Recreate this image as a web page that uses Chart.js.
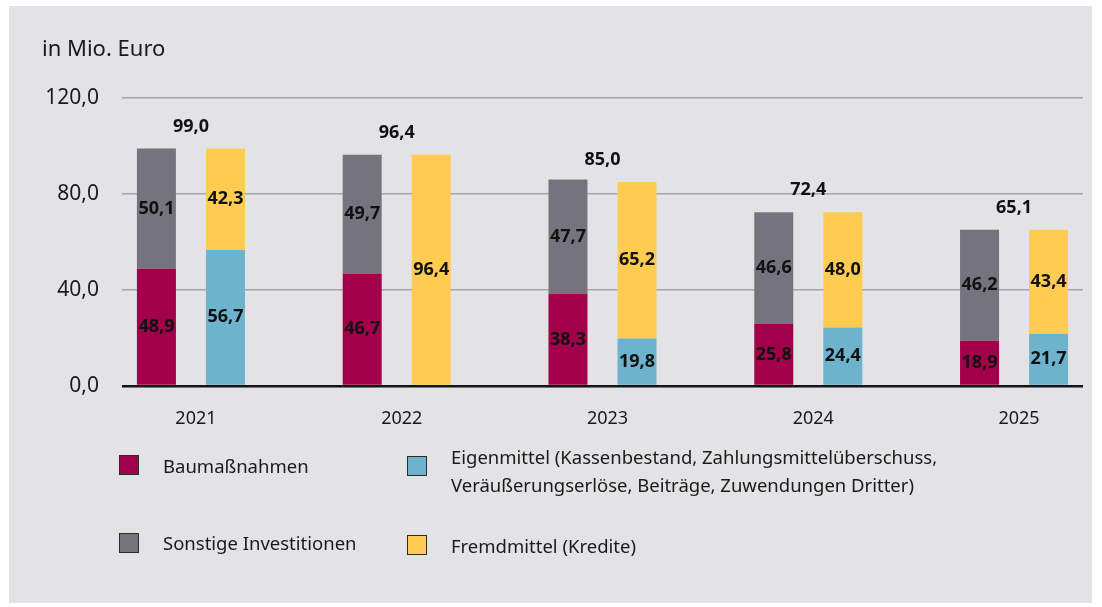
<!DOCTYPE html>
<html>
<head>
<meta charset="utf-8">
<title>Investitionen und Finanzierung</title>
<script src="https://cdn.jsdelivr.net/npm/chart.js@4/dist/chart.umd.min.js"></script>
<style>
  body { margin: 0; background: #fff; font-family: "Noto Sans", sans-serif; color: #1a1a1a; }
  #panel { position: absolute; left: 9px; top: 6px; width: 1083px; height: 597px; background: #e3e3e6; }
  #chart { position: absolute; left: 0; top: 0; }
  .unit { position: absolute; left: 42px; top: 32px; font-size: 22px; line-height: 30px; }
  .leg { position: absolute; font-size: 18.5px; line-height: 28px; }
  .sw { position: absolute; width: 18px; height: 18px; border: 1px solid #2a2a2a; }
</style>
</head>
<body>
<div id="panel"></div>
<canvas id="chart" width="1102" height="607"></canvas>
<div class="unit">in Mio. Euro</div>

<div class="sw" style="left:119px;top:455px;background:#a3004b"></div>
<div class="leg" style="left:163px;top:452px">Baumaßnahmen</div>
<div class="sw" style="left:407px;top:456px;background:#6db3ce"></div>
<div class="leg" style="left:451px;top:443px">Eigenmittel (Kassenbestand, Zahlungsmittelüberschuss,<br>Veräußerungserlöse, Beiträge, Zuwendungen Dritter)</div>
<div class="sw" style="left:119px;top:533px;background:#75747e"></div>
<div class="leg" style="left:163px;top:529px">Sonstige Investitionen</div>
<div class="sw" style="left:407px;top:535px;background:#ffcb50"></div>
<div class="leg" style="left:451px;top:532px">Fremdmittel (Kredite)</div>

<script>
const years = ['2021', '2022', '2023', '2024', '2025'];
const baumassnahmen = [48.9, 46.7, 38.3, 25.8, 18.9];
const sonstige = [50.1, 49.7, 47.7, 46.6, 46.2];
const eigenmittel = [56.7, null, 19.8, 24.4, 21.7];
const fremdmittel = [42.3, 96.4, 65.2, 48.0, 43.4];
const totals = [99.0, 96.4, 85.0, 72.4, 65.1];
const yTicks = [0, 40, 80, 120];

const fmt = v => v.toFixed(1).replace('.', ',');
const pts = arr => arr.map((v, i) => ({ x: i, y: v }));

// Zahlen in den Balken und Summen über jedem Jahr
const valueLabels = {
  id: 'valueLabels',
  afterDatasetsDraw(chart) {
    const ctx = chart.ctx;
    ctx.save();
    ctx.font = 'bold 18px "Noto Sans"';
    ctx.fillStyle = '#111';
    ctx.textAlign = 'center';
    ctx.textBaseline = 'middle';
    chart.data.datasets.forEach((ds, i) => {
      chart.getDatasetMeta(i).data.forEach((bar, j) => {
        const v = ds.data[j].y;
        if (v == null) return;
        ctx.fillText(fmt(v), bar.x, (bar.y + bar.base) / 2);
      });
    });
    const xs = chart.scales.x, ys = chart.scales.y;
    totals.forEach((t, j) => {
      ctx.fillText(fmt(t), xs.getPixelForValue(j), ys.getPixelForValue(t) - 22);
    });
    ctx.restore();
  }
};

new Chart(document.getElementById('chart'), {
  type: 'bar',
  data: {
    datasets: [
      { label: 'Baumaßnahmen', data: pts(baumassnahmen), backgroundColor: '#a3004b', stack: 'inv' },
      { label: 'Sonstige Investitionen', data: pts(sonstige), backgroundColor: '#75747e', stack: 'inv' },
      { label: 'Eigenmittel', data: pts(eigenmittel), backgroundColor: '#6db3ce', stack: 'fin' },
      { label: 'Fremdmittel (Kredite)', data: pts(fremdmittel), backgroundColor: '#ffcb50', stack: 'fin' }
    ]
  },
  options: {
    responsive: false,
    animation: false,
    categoryPercentage: 0.671,
    barPercentage: 0.565,
    layout: { padding: { top: 98, right: 19, bottom: 0, left: 0 } },
    plugins: { legend: { display: false }, tooltip: { enabled: false } },
    scales: {
      x: {
        type: 'linear',
        offset: false,
        min: -0.335,
        max: 4.335,
        afterBuildTicks: axis => { axis.ticks = years.map((_, i) => ({ value: i })); },
        afterFit: axis => { axis.height = 221; },
        grid: { display: false, drawTicks: false },
        border: { display: false },
        ticks: {
          padding: 22,
          labelOffset: 5,
          color: '#1a1a1a',
          font: { family: 'Noto Sans', size: 18 },
          callback: v => years[v]
        }
      },
      y: {
        stacked: true,
        min: 0,
        max: 120,
        afterBuildTicks: axis => { axis.ticks = yTicks.map(v => ({ value: v })); },
        afterFit: axis => { axis.width = 122; },
        grid: {
          drawTicks: false,
          color: c => c.tick.value === 0 ? '#151515' : '#a5a5a5',
          lineWidth: c => c.tick.value === 0 ? 2.5 : 1.5
        },
        border: { display: false },
        ticks: {
          padding: 23,
          color: '#1a1a1a',
          font: { family: 'Noto Sans', size: 21 },
          callback: v => fmt(v)
        }
      }
    }
  },
  plugins: [valueLabels]
});
</script>
</body>
</html>
